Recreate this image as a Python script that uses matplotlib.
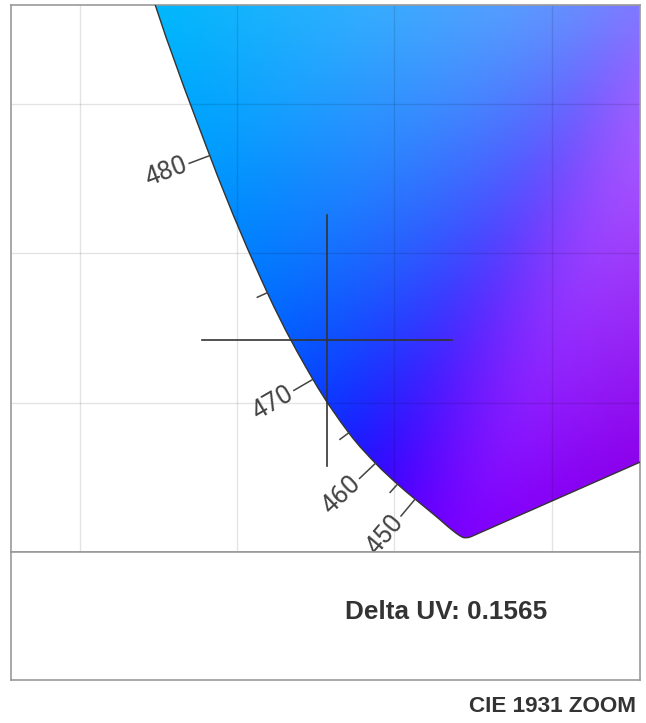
import numpy as np
import matplotlib
matplotlib.use("Agg")
import matplotlib.pyplot as plt
from matplotlib.path import Path
from matplotlib.patches import PathPatch

# ---------------- data ----------------
wavelengths = [380, 385, 390, 395, 400, 405, 410, 415, 420, 425, 430, 435, 440, 445,
               450, 455, 460, 465, 470, 475, 480, 485, 490, 495, 500, 505, 510, 515,
               520, 525, 530, 535, 540, 545, 550, 555, 560, 565, 570, 575, 580, 585,
               590, 595, 600, 605, 610, 615, 620, 625, 630, 635, 640, 645, 650, 655,
               660, 665, 670, 675, 680, 685, 690, 695, 700]
locus_x = [0.1741, 0.1740, 0.1738, 0.1736, 0.1733, 0.1730, 0.1726, 0.1721, 0.1714, 0.1703,
           0.1689, 0.1669, 0.1644, 0.1611, 0.1566, 0.1510, 0.1440, 0.1355, 0.1241, 0.1096,
           0.0913, 0.0687, 0.0454, 0.0235, 0.0082, 0.0039, 0.0139, 0.0389, 0.0743, 0.1142,
           0.1547, 0.1929, 0.2296, 0.2658, 0.3016, 0.3373, 0.3731, 0.4087, 0.4441, 0.4788,
           0.5125, 0.5448, 0.5752, 0.6029, 0.6270, 0.6482, 0.6658, 0.6801, 0.6915, 0.7006,
           0.7079, 0.7140, 0.7190, 0.7230, 0.7260, 0.7283, 0.7300, 0.7311, 0.7320, 0.7327,
           0.7334, 0.7340, 0.7344, 0.7346, 0.7347]
locus_y = [0.0050, 0.0050, 0.0049, 0.0049, 0.0048, 0.0048, 0.0048, 0.0048, 0.0051, 0.0058,
           0.0069, 0.0086, 0.0109, 0.0138, 0.0177, 0.0227, 0.0297, 0.0399, 0.0578, 0.0868,
           0.1327, 0.2007, 0.2950, 0.4127, 0.5384, 0.6548, 0.7502, 0.8120, 0.8338, 0.8262,
           0.8059, 0.7816, 0.7543, 0.7243, 0.6923, 0.6589, 0.6245, 0.5896, 0.5547, 0.5202,
           0.4866, 0.4544, 0.4242, 0.3965, 0.3725, 0.3514, 0.3340, 0.3197, 0.3083, 0.2993,
           0.2920, 0.2859, 0.2809, 0.2770, 0.2740, 0.2717, 0.2700, 0.2689, 0.2680, 0.2673,
           0.2666, 0.2660, 0.2656, 0.2654, 0.2653]
white_point = (0.3127, 0.3290)
tick_wavelengths = [450, 455, 460, 465, 470, 475, 480]
label_wavelengths = [450, 460, 470, 480]
point_x = 0.1286
point_y = 0.0709
arm_x = 0.0397
arm_y = 0.0420
delta_uv = 0.1565
x_limits = (0.0281, 0.2281)
y_limits = (0.0, 0.1831)
grid_x = [0.05, 0.10, 0.15, 0.20]
grid_y = [0.05, 0.10, 0.15]
title_text = "CIE 1931 ZOOM"

# ---------------- figure ----------------
W, H = 646, 723
fig = plt.figure(figsize=(W / 100, H / 100), dpi=100)
fig.patch.set_facecolor("white")

L, R, T, B = 11, 640, 5, 552
ax = fig.add_axes([L / W, 1 - B / H, (R - L) / W, (B - T) / H])
ax.set_xlim(*x_limits)
ax.set_ylim(*y_limits)

# ---- colours of the locus vertices (xy -> XYZ -> sRGB) ----
M = np.array([[3.2406, -1.5372, -0.4986],
              [-0.9689, 1.8758, 0.0415],
              [0.0557, -0.2040, 1.0570]])


def encode(c):
    c = c / c.max(axis=-1, keepdims=True)
    c = np.clip(c, 0, 1)
    return np.where(c <= 0.0031308, 12.92 * c, 1.055 * np.power(c, 1 / 2.4) - 0.055)


def xy_to_rgb(x, y):
    x = np.asarray(x, float)
    y = np.asarray(y, float)
    XYZ = np.stack([x / y, np.ones_like(x), (1 - x - y) / y], axis=-1)
    lin = XYZ @ M.T
    a = encode(np.clip(lin, 0, None))
    b = encode(lin - np.minimum(lin.min(axis=-1, keepdims=True), 0))
    return 0.5 * (a + b)


vx = np.array(locus_x)
vy = np.array(locus_y)
vcol = xy_to_rgb(vx, vy)
# soften the colour progression along the locus
for _ in range(3):
    padded = np.vstack([vcol[:1], vcol, vcol[-1:]])
    vcol = 0.25 * padded[:-2] + 0.5 * padded[1:-1] + 0.25 * padded[2:]
wcol = np.array([0.88, 0.86, 1.0])

# ---- Gouraud-shaded triangle fan from the white point ----
nxp, nyp = 640, 560
xs = np.linspace(x_limits[0], x_limits[1], nxp)
ys = np.linspace(y_limits[0], y_limits[1], nyp)
Xg, Yg = np.meshgrid(xs, ys)
img = np.ones(Xg.shape + (3,))
done = np.zeros(Xg.shape, bool)
wx, wy = white_point
nv = len(vx)
for i in range(nv):
    j = (i + 1) % nv
    ax_, ay_ = vx[i], vy[i]
    bx_, by_ = vx[j], vy[j]
    den = (ay_ - by_) * (wx - bx_) + (bx_ - ax_) * (wy - by_)
    if abs(den) < 1e-12:
        continue
    l1 = ((ay_ - by_) * (Xg - bx_) + (bx_ - ax_) * (Yg - by_)) / den
    l2 = ((by_ - wy) * (Xg - bx_) + (wx - bx_) * (Yg - by_)) / den
    l3 = 1 - l1 - l2
    sel = (l2 >= -1e-9) & (l3 >= -1e-9) & (~done)
    if not sel.any():
        continue
    f = l2 + l3
    t = np.where(f > 0, l3 / np.where(f > 0, f, 1), 0)
    fc = np.clip(f, 0, 1)[..., None]
    edge = (1 - t)[..., None] * vcol[i] + t[..., None] * vcol[j]
    col = (1 - fc) * wcol + fc * edge
    img[sel] = col[sel]
    done |= sel


def blur(a, sigma):
    r = int(3 * sigma)
    k = np.exp(-0.5 * (np.arange(-r, r + 1) / sigma) ** 2)
    k /= k.sum()
    a = np.pad(a, ((r, r), (r, r), (0, 0)), mode="edge")
    a = np.apply_along_axis(lambda v: np.convolve(v, k, mode="valid"), 0, a)
    a = np.apply_along_axis(lambda v: np.convolve(v, k, mode="valid"), 1, a)
    return a


img = np.clip(blur(img, 20), 0, 1)

im = ax.imshow(img, origin="lower", extent=(x_limits[0], x_limits[1], y_limits[0], y_limits[1]),
               aspect="auto", interpolation="bilinear", zorder=0)

# smooth closed locus path (Catmull-Rom rendered as cubic Bezier)
P = np.column_stack([locus_x, locus_y])
n = len(P)
verts = [P[0]]
codes = [Path.MOVETO]
for i in range(n - 1):
    p0 = P[i - 1] if i > 0 else P[i]
    p1 = P[i]
    p2 = P[i + 1]
    p3 = P[i + 2] if i + 2 < n else P[i + 1]
    c1 = p1 + (p2 - p0) / 6.0
    c2 = p2 - (p3 - p1) / 6.0
    verts += [c1, c2, p2]
    codes += [Path.CURVE4] * 3
verts.append(P[0])
codes.append(Path.LINETO)
verts.append(P[0])
codes.append(Path.CLOSEPOLY)
locus_path = Path(np.array(verts), codes)

clip_patch = PathPatch(locus_path, facecolor="none", edgecolor="none", transform=ax.transData)
ax.add_patch(clip_patch)
im.set_clip_path(clip_patch)
ax.add_patch(PathPatch(locus_path, facecolor="none", edgecolor="#333333", lw=1.0,
                       zorder=3, transform=ax.transData))

# grid
ax.set_xticks(grid_x)
ax.set_yticks(grid_y)
ax.grid(True, color="black", alpha=0.11, lw=1.0)
ax.set_axisbelow("line")
ax.tick_params(length=0, labelbottom=False, labelleft=False)
for s in ax.spines.values():
    s.set_color("#999999")
    s.set_linewidth(1.2)

# crosshair
ax.plot([point_x - arm_x, point_x + arm_x], [point_y, point_y], color="#333333", lw=1.2, zorder=4)
ax.plot([point_x, point_x], [point_y - arm_y, point_y + arm_y], color="#333333", lw=1.2, zorder=4)

# wavelength ticks & labels (normal to the locus in display space)
fig.canvas.draw()
tD = ax.transData
inv = tD.inverted()
for wl in tick_wavelengths:
    i = wavelengths.index(wl)
    pa = tD.transform((locus_x[i - 1], locus_y[i - 1]))
    pb = tD.transform((locus_x[i + 1], locus_y[i + 1]))
    p = tD.transform((locus_x[i], locus_y[i]))
    t = pb - pa
    t = t / np.hypot(*t)
    nrm = np.array([-t[1], t[0]])
    major = wl in label_wavelengths
    length = 22 if major else 11
    end = p + nrm * length
    d0 = inv.transform(p)
    d1 = inv.transform(end)
    ax.plot([d0[0], d1[0]], [d0[1], d1[1]], color="#444444", lw=1.1, zorder=4, clip_on=False)
    if major:
        lp = inv.transform(p + nrm * (length + 3))
        ang = np.degrees(np.arctan2(-nrm[1], -nrm[0]))
        ax.text(lp[0], lp[1], str(wl), rotation=ang, rotation_mode="anchor",
                ha="right", va="center", fontsize=18.5, color="#444444",
                family=["Roboto", "DejaVu Sans"], zorder=5)

# info box
box = fig.add_axes([L / W, 1 - 680 / H, (R - L) / W, (680 - B) / H])
box.set_xticks([])
box.set_yticks([])
for s in box.spines.values():
    s.set_color("#999999")
    s.set_linewidth(1.2)
box.text((446 - L) / (R - L), (680 - 612) / (680 - B), f"Delta UV: {delta_uv:.4f}",
         ha="center", va="center", fontsize=18.8, fontweight="bold", color="#333333",
         family=["Liberation Sans", "DejaVu Sans"], transform=box.transAxes)

fig.text(636 / W, 1 - 706 / H, title_text, ha="right", va="center", fontsize=16.2,
         fontweight="bold", color="#333333", family=["Liberation Sans", "DejaVu Sans"])

fig.savefig("out.png", dpi=100, facecolor="white")
